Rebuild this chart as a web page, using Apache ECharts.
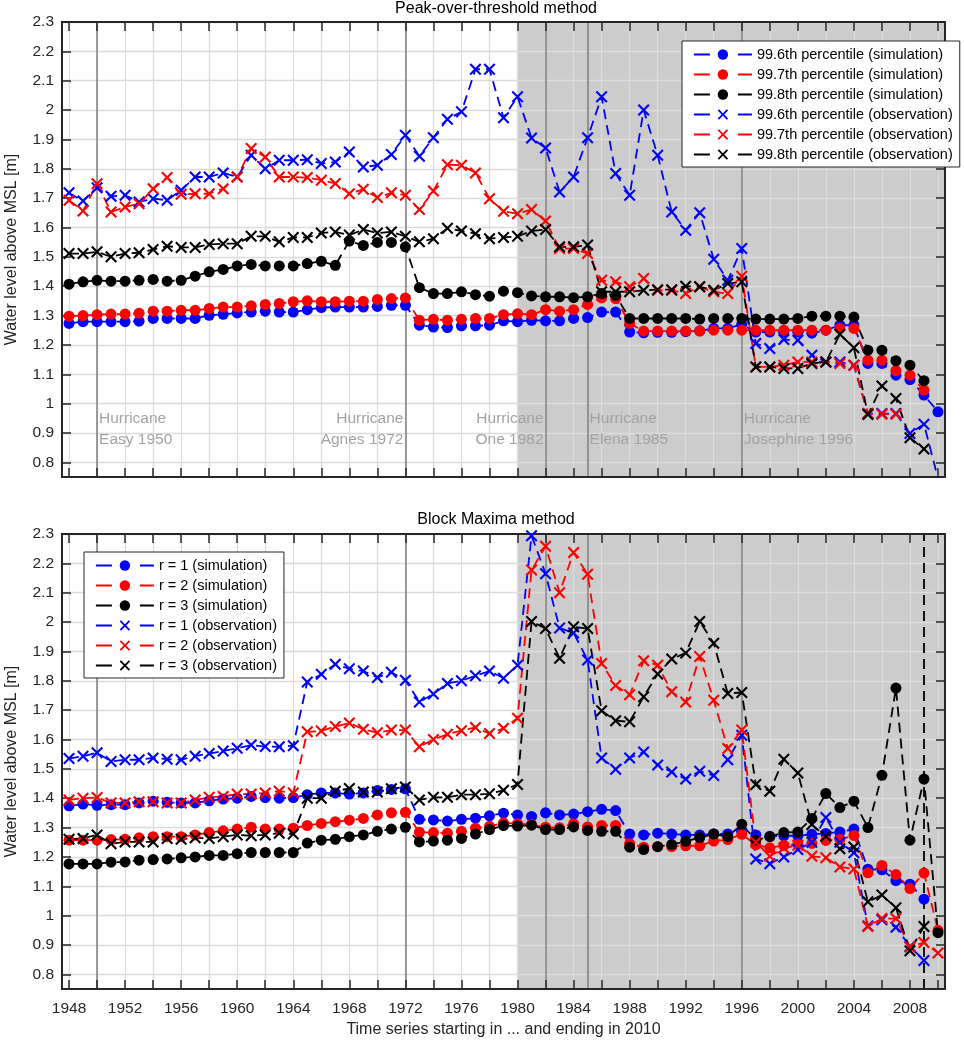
<!DOCTYPE html>
<html>
<head>
<meta charset="utf-8">
<title>Water level above MSL</title>
<script src="https://cdn.jsdelivr.net/npm/echarts@6.0.0/dist/echarts.min.js"></script>
<style>
  html, body { margin: 0; padding: 0; background: #fff; }
  #main { width: 964px; height: 1041px; }
</style>
</head>
<body>
<div id="main"></div>
<script>
// start year of each time series (all end in 2010)
var years = [1948, 1949, 1950, 1951, 1952, 1953, 1954, 1955, 1956, 1957,
    1958, 1959, 1960, 1961, 1962, 1963, 1964, 1965, 1966, 1967,
    1968, 1969, 1970, 1971, 1972, 1973, 1974, 1975, 1976, 1977,
    1978, 1979, 1980, 1981, 1982, 1983, 1984, 1985, 1986, 1987,
    1988, 1989, 1990, 1991, 1992, 1993, 1994, 1995, 1996, 1997,
    1998, 1999, 2000, 2001, 2002, 2003, 2004, 2005, 2006, 2007,
    2008, 2009, 2010];

var xTickYears = [1948, 1950, 1952, 1954, 1956, 1958, 1960, 1962, 1964, 1966, 1968, 1970,
    1972, 1974, 1976, 1978, 1980, 1982, 1984, 1986, 1988, 1990, 1992, 1994, 1996, 1998,
    2000, 2002, 2004, 2006, 2008, 2010];
var xLabelYears = [1948, 1952, 1956, 1960, 1964, 1968, 1972, 1976, 1980, 1984, 1988,
    1992, 1996, 2000, 2004, 2008];
var yTicks = [0.8, 0.9, 1.0, 1.1, 1.2, 1.3, 1.4, 1.5, 1.6, 1.7, 1.8, 1.9, 2.0, 2.1, 2.2, 2.3];

var hurricaneYears = [1950, 1972, 1982, 1985, 1996];
var hurricaneNames = ['Easy 1950', 'Agnes 1972', 'One 1982', 'Elena 1985', 'Josephine 1996'];
var grayFrom = 1980;
var bmMarkYear = 2009;

// Peak-over-threshold method
var potNames = ['99.6th percentile (simulation)', '99.7th percentile (simulation)', '99.8th percentile (simulation)',
    '99.6th percentile (observation)', '99.7th percentile (observation)', '99.8th percentile (observation)'];

var potSim996 = [1.273, 1.279, 1.279, 1.279, 1.279, 1.281, 1.290, 1.290, 1.290, 1.290,
    1.301, 1.304, 1.309, 1.312, 1.315, 1.312, 1.312, 1.320, 1.327, 1.329,
    1.329, 1.329, 1.331, 1.335, 1.335, 1.267, 1.261, 1.259, 1.265, 1.265,
    1.267, 1.282, 1.279, 1.284, 1.282, 1.282, 1.290, 1.293, 1.312, 1.312,
    1.244, 1.241, 1.243, 1.243, 1.245, 1.248, 1.256, 1.256, 1.270, 1.244,
    1.244, 1.244, 1.244, 1.240, 1.250, 1.267, 1.267, 1.137, 1.137, 1.097,
    1.082, 1.029, 0.972];
var potSim997 = [1.298, 1.300, 1.303, 1.305, 1.305, 1.308, 1.315, 1.315, 1.318, 1.318,
    1.324, 1.329, 1.329, 1.333, 1.338, 1.341, 1.347, 1.350, 1.347, 1.347,
    1.349, 1.349, 1.355, 1.358, 1.360, 1.284, 1.287, 1.284, 1.287, 1.290,
    1.290, 1.303, 1.306, 1.303, 1.320, 1.315, 1.320, 1.338, 1.360, 1.358,
    1.273, 1.247, 1.247, 1.247, 1.247, 1.247, 1.250, 1.250, 1.250, 1.250,
    1.250, 1.250, 1.250, 1.250, 1.250, 1.256, 1.256, 1.148, 1.148, 1.112,
    1.097, 1.046, null];
var potSim998 = [1.407, 1.415, 1.420, 1.417, 1.417, 1.420, 1.423, 1.417, 1.420, 1.434,
    1.449, 1.457, 1.469, 1.474, 1.469, 1.469, 1.469, 1.477, 1.485, 1.471,
    1.554, 1.539, 1.549, 1.549, 1.534, 1.395, 1.375, 1.375, 1.381, 1.371,
    1.366, 1.383, 1.378, 1.367, 1.364, 1.364, 1.361, 1.364, 1.375, 1.369,
    1.290, 1.290, 1.290, 1.290, 1.290, 1.288, 1.290, 1.290, 1.290, 1.288,
    1.288, 1.288, 1.290, 1.298, 1.298, 1.298, 1.295, 1.182, 1.182, 1.146,
    1.131, 1.078, null];
var potObs996 = [1.718, 1.690, 1.735, 1.706, 1.710, 1.687, 1.698, 1.693, 1.727, 1.772,
    1.772, 1.786, 1.772, 1.846, 1.800, 1.829, 1.829, 1.831, 1.818, 1.823,
    1.857, 1.806, 1.812, 1.849, 1.914, 1.843, 1.906, 1.969, 1.994, 2.139,
    2.139, 1.974, 2.045, 1.905, 1.871, 1.721, 1.772, 1.906, 2.045, 1.784,
    1.710, 2.000, 1.846, 1.653, 1.591, 1.650, 1.492, 1.420, 1.528, 1.205,
    1.188, 1.218, 1.216, 1.165, 1.142, 1.142, 1.131, 0.966, 0.966, 0.966,
    0.898, 0.930, 0.745];
var potObs997 = [1.693, 1.656, 1.749, 1.653, 1.670, 1.681, 1.732, 1.770, 1.713, 1.715,
    1.715, 1.732, 1.772, 1.869, 1.840, 1.772, 1.772, 1.770, 1.761, 1.750,
    1.715, 1.730, 1.702, 1.718, 1.710, 1.661, 1.724, 1.814, 1.812, 1.786,
    1.698, 1.655, 1.647, 1.661, 1.622, 1.528, 1.528, 1.511, 1.420, 1.415,
    1.398, 1.426, 1.386, 1.386, 1.375, 1.398, 1.381, 1.375, 1.434, 1.125,
    1.125, 1.131, 1.142, 1.142, 1.142, 1.137, 1.131, 0.966, 0.964, 0.964,
    null, null, null];
var potObs998 = [1.511, 1.511, 1.517, 1.500, 1.511, 1.514, 1.525, 1.536, 1.532, 1.532,
    1.542, 1.545, 1.545, 1.570, 1.570, 1.551, 1.566, 1.566, 1.581, 1.585,
    1.574, 1.593, 1.581, 1.585, 1.570, 1.551, 1.562, 1.597, 1.588, 1.579,
    1.562, 1.566, 1.570, 1.588, 1.593, 1.534, 1.534, 1.540, 1.381, 1.381,
    1.381, 1.386, 1.388, 1.388, 1.400, 1.398, 1.386, 1.409, 1.415, 1.125,
    1.125, 1.120, 1.120, 1.137, 1.142, 1.236, 1.190, 0.963, 1.060, 1.017,
    0.884, 0.845, null];

// Block Maxima method
var bmNames = ['r = 1 (simulation)', 'r = 2 (simulation)', 'r = 3 (simulation)',
    'r = 1 (observation)', 'r = 2 (observation)', 'r = 3 (observation)'];

var bmSim1 = [1.374, 1.380, 1.376, 1.378, 1.378, 1.384, 1.390, 1.386, 1.384, 1.384,
    1.391, 1.397, 1.400, 1.406, 1.402, 1.400, 1.402, 1.412, 1.418, 1.418,
    1.414, 1.418, 1.426, 1.430, 1.432, 1.328, 1.326, 1.322, 1.328, 1.332,
    1.340, 1.349, 1.343, 1.338, 1.350, 1.343, 1.346, 1.354, 1.362, 1.358,
    1.278, 1.275, 1.281, 1.278, 1.275, 1.275, 1.278, 1.278, 1.290, 1.275,
    1.270, 1.272, 1.272, 1.277, 1.280, 1.285, 1.295, 1.158, 1.156, 1.119,
    1.107, 1.056, null];
var bmSim2 = [1.257, 1.257, 1.257, 1.259, 1.260, 1.265, 1.269, 1.269, 1.269, 1.275,
    1.283, 1.289, 1.295, 1.301, 1.295, 1.295, 1.298, 1.307, 1.314, 1.320,
    1.325, 1.331, 1.343, 1.350, 1.352, 1.284, 1.283, 1.281, 1.287, 1.298,
    1.304, 1.316, 1.313, 1.310, 1.301, 1.299, 1.313, 1.302, 1.307, 1.307,
    1.245, 1.233, 1.235, 1.235, 1.238, 1.238, 1.254, 1.259, 1.277, 1.241,
    1.231, 1.239, 1.243, 1.246, 1.256, 1.260, 1.273, 1.146, 1.171, 1.140,
    1.092, 1.145, 0.950];
var bmSim3 = [1.176, 1.176, 1.176, 1.182, 1.183, 1.189, 1.191, 1.193, 1.197, 1.200,
    1.205, 1.205, 1.211, 1.215, 1.215, 1.215, 1.215, 1.247, 1.257, 1.260,
    1.269, 1.275, 1.287, 1.295, 1.301, 1.251, 1.254, 1.257, 1.263, 1.278,
    1.293, 1.307, 1.305, 1.308, 1.293, 1.293, 1.302, 1.290, 1.287, 1.287,
    1.233, 1.225, 1.235, 1.242, 1.253, 1.266, 1.278, 1.269, 1.311, 1.257,
    1.269, 1.283, 1.285, 1.331, 1.416, 1.368, 1.390, 1.300, 1.478, 1.775,
    1.257, 1.465, 0.942];
var bmObs1 = [1.535, 1.543, 1.555, 1.525, 1.531, 1.531, 1.537, 1.533, 1.531, 1.543,
    1.552, 1.561, 1.570, 1.581, 1.576, 1.575, 1.579, 1.796, 1.822, 1.856,
    1.841, 1.833, 1.811, 1.829, 1.802, 1.728, 1.755, 1.791, 1.800, 1.817,
    1.833, 1.809, 1.853, 2.294, 2.165, 1.980, 1.963, 1.871, 1.537, 1.499,
    1.537, 1.557, 1.513, 1.489, 1.465, 1.492, 1.477, 1.531, 1.614, 1.193,
    1.177, 1.200, 1.225, 1.250, 1.334, 1.250, 1.214, 0.965, 0.986, 0.960,
    0.895, 0.847, null];
var bmObs2 = [1.394, 1.400, 1.402, 1.384, 1.384, 1.388, 1.388, 1.384, 1.384, 1.394,
    1.403, 1.406, 1.414, 1.414, 1.418, 1.424, 1.418, 1.626, 1.629, 1.644,
    1.656, 1.635, 1.623, 1.632, 1.632, 1.575, 1.600, 1.618, 1.630, 1.641,
    1.620, 1.638, 1.672, 2.177, 2.258, 2.100, 2.237, 2.163, 1.859, 1.784,
    1.752, 1.868, 1.853, 1.763, 1.728, 1.883, 1.734, 1.569, 1.632, 1.250,
    1.202, 1.230, 1.240, 1.202, 1.197, 1.166, 1.159, 0.963, 0.990, 0.990,
    0.893, 0.908, 0.873];
var bmObs3 = [1.260, 1.263, 1.275, 1.245, 1.251, 1.251, 1.251, 1.263, 1.260, 1.265,
    1.263, 1.269, 1.275, 1.272, 1.275, 1.281, 1.278, 1.400, 1.400, 1.424,
    1.433, 1.421, 1.421, 1.432, 1.438, 1.394, 1.403, 1.403, 1.412, 1.412,
    1.415, 1.427, 1.447, 2.002, 1.978, 1.877, 1.984, 1.978, 1.698, 1.664,
    1.660, 1.746, 1.823, 1.874, 1.895, 2.002, 1.928, 1.757, 1.760, 1.447,
    1.424, 1.533, 1.486, 1.310, 1.270, 1.228, 1.234, 1.047, 1.070, 1.027,
    0.880, 0.963, null];

var FONT = '"Liberation Sans", Arial, Helvetica, sans-serif';
var AXIS = '#262626';
var colors = ['#0000ff', '#ff0000', '#000000', '#0000ff', '#ff0000', '#000000'];
var CROSS = 'path://M2.5,0 L10,7.5 L17.5,0 L20,2.5 L12.5,10 L20,17.5 L17.5,20 L10,12.5 L2.5,20 L0,17.5 L7.5,10 L0,2.5 Z';

function pairs(vals) {
    return years.map(function (y, i) { return [y, vals[i]]; });
}

function makeSeries(name, vals, i, axisIndex) {
    var isObs = i >= 3;
    return {
        name: name,
        type: 'line',
        xAxisIndex: axisIndex,
        yAxisIndex: axisIndex,
        data: pairs(vals),
        symbol: isObs ? CROSS : 'circle',
        symbolSize: isObs ? 12 : 11,
        showSymbol: true,
        showAllSymbol: true,
        lineStyle: { color: colors[i], width: 1.8, type: [10, 6] },
        itemStyle: { color: colors[i] },
        emphasis: { disabled: true },
        silent: true,
        animation: false
    };
}

function xAxisPair(grid, bottomLabels) {
    var common = {
        type: 'value', gridIndex: grid, min: 1947.5, max: 2010.5, z: 1,
        axisLine: { show: true, onZero: false, lineStyle: { color: AXIS, width: 2 } },
        axisTick: { show: true, inside: true, length: 9, customValues: xTickYears,
            lineStyle: { color: AXIS, width: 1.5 } },
        axisPointer: { show: false }
    };
    var bottom = Object.assign({}, common, {
        position: 'bottom',
        axisLabel: { show: bottomLabels, customValues: xLabelYears, margin: 12,
            color: AXIS, fontFamily: FONT, fontSize: 15.5,
            formatter: function (v) { return String(v); } },
        splitLine: { show: true, lineStyle: { color: '#dcdcdc', width: 1.3 } }
    });
    if (bottomLabels) {
        bottom.name = 'Time series starting in ... and ending in 2010';
        bottom.nameLocation = 'middle';
        bottom.nameGap = 33;
        bottom.nameTextStyle = { color: AXIS, fontFamily: FONT, fontSize: 16 };
    }
    var top = Object.assign({}, common, {
        position: 'top',
        axisLabel: { show: false },
        splitLine: { show: false }
    });
    return [bottom, top];
}

function yAxisPair(grid) {
    var common = {
        type: 'value', gridIndex: grid, min: 0.75, max: 2.3, z: 1,
        axisLine: { show: true, onZero: false, lineStyle: { color: AXIS, width: 2 } },
        axisTick: { show: true, inside: true, length: 9, customValues: yTicks,
            lineStyle: { color: AXIS, width: 1.5 } },
        axisPointer: { show: false }
    };
    var left = Object.assign({}, common, {
        position: 'left',
        name: 'Water level above MSL [m]',
        nameLocation: 'middle',
        nameGap: 42,
        nameTextStyle: { color: AXIS, fontFamily: FONT, fontSize: 16 },
        axisLabel: { show: true, customValues: yTicks, margin: 8, color: AXIS,
            fontFamily: FONT, fontSize: 15.5,
            formatter: function (v) { return String(Math.round(v * 10) / 10); } },
        splitLine: { show: true, lineStyle: { color: '#dcdcdc', width: 1.3 } }
    });
    var right = Object.assign({}, common, {
        position: 'right',
        axisLabel: { show: false },
        splitLine: { show: false }
    });
    return [left, right];
}

function decorSeries(axisIndex, withLabels, withMark) {
    var lines = hurricaneYears.map(function (yr) {
        return { xAxis: yr };
    });
    if (withMark) {
        lines.push({ xAxis: bmMarkYear, lineStyle: { color: '#000', type: [10, 6], width: 1.8 } });
    }
    var list = [{
        type: 'line', xAxisIndex: axisIndex, yAxisIndex: axisIndex, data: [], silent: true,
        markArea: {
            silent: true, z: 0,
            itemStyle: { color: '#cccccc', opacity: 1 },
            data: [[{ xAxis: grayFrom }, { xAxis: 2010.5 }]]
        },
        markLine: {
            silent: true, z: 1, symbol: ['none', 'none'], animation: false,
            label: { show: false },
            lineStyle: { color: '#7f7f7f', width: 1.5, type: 'solid' },
            data: lines
        }
    }];
    if (withLabels) {
        var sides = ['right', 'left', 'left', 'right', 'right'];
        list[0].markPoint = {
            silent: true, symbol: 'circle', symbolSize: 0, animation: false,
            data: hurricaneYears.map(function (yr, i) {
                return {
                    coord: [yr, 0.914],
                    label: {
                        show: true, position: sides[i], distance: 2,
                        formatter: 'Hurricane\n' + hurricaneNames[i],
                        color: '#a3a3a3', fontFamily: FONT, fontSize: 15.5, lineHeight: 21,
                        align: sides[i] === 'right' ? 'left' : 'right'
                    }
                };
            })
        };
    }
    return list;
}

var potVals = [potSim996, potSim997, potSim998, potObs996, potObs997, potObs998];
var bmVals = [bmSim1, bmSim2, bmSim3, bmObs1, bmObs2, bmObs3];

var series = [].concat(
    decorSeries(0, true, false),
    decorSeries(2, false, true),
    potVals.map(function (v, i) { return makeSeries(potNames[i], v, i, 0); }),
    bmVals.map(function (v, i) { return makeSeries(bmNames[i], v, i, 2); })
);

var legendCommon = {
    orient: 'vertical',
    backgroundColor: '#fff',
    borderColor: '#262626',
    borderWidth: 1,
    borderRadius: 0,
    padding: [6, 7, 5, 11],
    itemWidth: 58,
    itemHeight: 13,
    itemGap: 5,
    selectedMode: false,
    lineStyle: { type: [16, 28, 14], width: 1.8 },
    textStyle: { color: '#000', fontFamily: FONT, fontSize: 14.5 }
};

var option = {
    animation: false,
    backgroundColor: '#fff',
    title: [
        { text: 'Peak-over-threshold method', left: 496, top: 1, padding: 0, textAlign: 'center',
            textStyle: { color: '#000', fontFamily: FONT, fontSize: 16, fontWeight: 'normal' } },
        { text: 'Block Maxima method', left: 496, top: 512, padding: 0, textAlign: 'center',
            textStyle: { color: '#000', fontFamily: FONT, fontSize: 16, fontWeight: 'normal' } }
    ],
    legend: [
        Object.assign({}, legendCommon, { data: potNames, left: 682, top: 41 }),
        Object.assign({}, legendCommon, { data: bmNames, left: 84, top: 552 })
    ],
    grid: [
        { left: 62, right: 19, top: 22, height: 455, outerBoundsMode: 'none' },
        { left: 62, right: 19, top: 534, height: 455, outerBoundsMode: 'none' }
    ],
    xAxis: [].concat(xAxisPair(0, false), xAxisPair(1, true)),
    yAxis: [].concat(yAxisPair(0), yAxisPair(1)),
    series: series
};

var chart = echarts.init(document.getElementById('main'));
chart.setOption(option);
</script>
</body>
</html>
